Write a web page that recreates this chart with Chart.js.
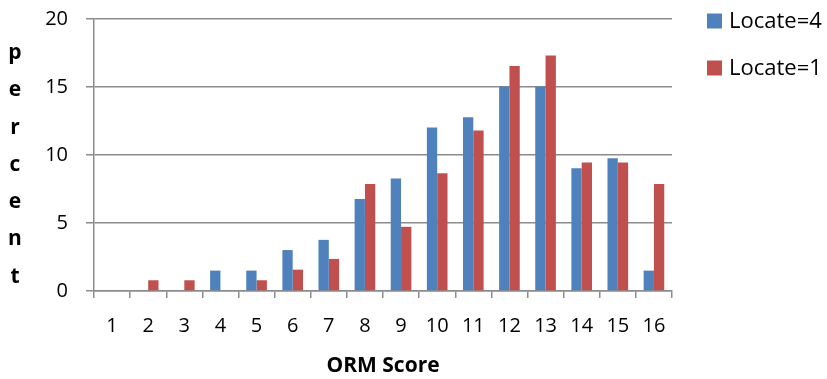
<!DOCTYPE html>
<html>
<head>
<meta charset="utf-8">
<script src="https://cdn.jsdelivr.net/npm/chart.js@4"></script>
<style>
  html, body { margin: 0; padding: 0; background: #fff; }
</style>
</head>
<body>
<canvas id="myChart" width="827" height="379"></canvas>
<script>
// Données
const scores = ['1', '2', '3', '4', '5', '6', '7', '8', '9', '10', '11', '12', '13', '14', '15', '16'];
const locate4 = [0, 0, 0, 1.5, 1.5, 3.01, 3.76, 6.77, 8.27, 12.03, 12.78, 15.04, 15.04, 9.02, 9.77, 1.5];
const locate1 = [0, 0.79, 0.79, 0, 0.79, 1.57, 2.36, 7.87, 4.72, 8.66, 11.81, 16.54, 17.32, 9.45, 9.45, 7.87];
const seriesNames = ['Locate=4', 'Locate=1'];
const yTicks = [0, 5, 10, 15, 20];
const yTitle = 'percent';
const xTitle = 'ORM Score';

const gridGray = '#8c8c8c';
const fontFamily = '"Open Sans", "Liberation Sans", sans-serif';

// Titre vertical lettre par lettre + légende à droite
const sideText = {
    id: 'sideText',
    afterDraw(chart) {
        const ctx = chart.ctx;
        ctx.save();
        ctx.fillStyle = '#000';
        ctx.font = 'bold 21px ' + fontFamily;
        ctx.textAlign = 'center';
        ctx.textBaseline = 'middle';
        yTitle.split('').forEach((ch, i) => ctx.fillText(ch, 15, 53 + i * 37.3));

        ctx.font = '22px ' + fontFamily;
        ctx.textAlign = 'left';
        chart.data.datasets.forEach((ds, i) => {
            const y = 21 + i * 47;
            ctx.fillStyle = ds.backgroundColor;
            ctx.fillRect(707, y - 7.5, 15, 15);
            ctx.fillStyle = '#000';
            ctx.fillText(ds.label, 729, y + 1);
        });
        ctx.restore();
    }
};

const ctx = document.getElementById('myChart').getContext('2d');
const myChart = new Chart(ctx, {
    type: 'bar',
    data: {
        labels: scores,
        datasets: [{
            label: seriesNames[0],
            data: locate4,
            backgroundColor: '#4F81BD',
            categoryPercentage: 0.571,
            barPercentage: 1
        }, {
            label: seriesNames[1],
            data: locate1,
            backgroundColor: '#C0504D',
            categoryPercentage: 0.571,
            barPercentage: 1
        }]
    },
    options: {
        responsive: false,
        animation: false,
        layout: { padding: { top: 19, right: 155, left: 0, bottom: 0 } },
        plugins: {
            legend: { display: false },
            tooltip: { enabled: false }
        },
        scales: {
            x: {
                afterFit(scale) {
                    scale.height = 88;
                    scale.paddingLeft = 0;
                    scale.paddingRight = 0;
                },
                grid: {
                    offset: true,
                    drawOnChartArea: false,
                    drawTicks: true,
                    tickLength: 7,
                    color: gridGray,
                    lineWidth: 1.5
                },
                border: { display: true, color: gridGray, width: 1.5 },
                ticks: {
                    color: '#000',
                    padding: 16,
                    font: { family: fontFamily, size: 20 }
                },
                title: {
                    display: true,
                    text: xTitle,
                    color: '#000',
                    font: { family: fontFamily, size: 21, weight: 'bold' },
                    padding: { top: 0, bottom: 0 }
                }
            },
            y: {
                min: yTicks[0],
                max: yTicks[yTicks.length - 1],
                afterFit(scale) {
                    scale.width = 94;
                    scale.paddingTop = 0;
                    scale.paddingBottom = 0;
                },
                afterBuildTicks(scale) { scale.ticks = yTicks.map(v => ({ value: v })); },
                grid: {
                    color: gridGray,
                    lineWidth: 1.5,
                    drawTicks: true,
                    tickLength: 8
                },
                border: { display: true, color: gridGray, width: 1.5 },
                ticks: {
                    color: '#000',
                    padding: 18,
                    font: { family: fontFamily, size: 20 }
                }
            }
        }
    },
    plugins: [sideText]
});
</script>
</body>
</html>
